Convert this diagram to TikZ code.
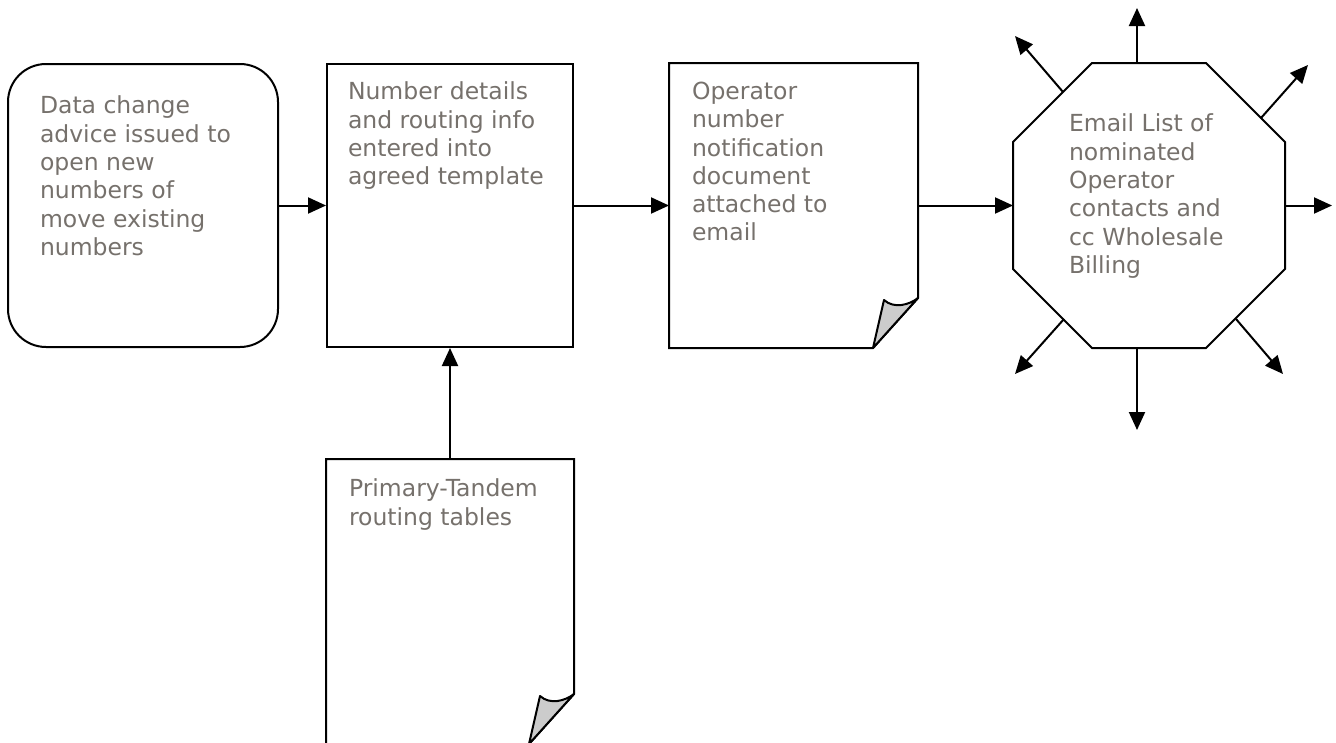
\documentclass[tikz,border=0pt]{standalone}
\usepackage{fontspec}
\setmainfont{DejaVu Sans}
\usetikzlibrary{positioning,calc,arrows.meta}

\definecolor{notegrey}{RGB}{118,113,108}
\definecolor{flapgrey}{RGB}{204,204,204}

\tikzset{
	>={Triangle[length=18pt,width=16pt]},
	stepbox/.style={draw,inner sep=0pt,minimum width=246pt,minimum height=283pt},
	startbox/.style={draw,inner sep=0pt,minimum width=270pt,minimum height=283pt,rounded corners=38pt},
	pagebox/.style={inner sep=0pt,minimum width=247pt,minimum height=283pt},
	note/.style={anchor=north west,inner sep=0pt,align=left,text=notegrey,
		font=\fontsize{23.5}{28.3}\selectfont}
}

% page outline with the bottom right corner curled up
\newcommand{\foldedpage}[1]{%
	\draw[line join=miter] (#1.south west) -- (#1.north west) -- (#1.north east)
		-- ($(#1.south east)+(0,-50)$) -- ($(#1.south east)+(-45,0)$) -- cycle;
	\draw[fill=flapgrey,line join=round] ($(#1.south east)+(-45,0)$) -- ($(#1.south east)+(-34,-48)$)
		.. controls ($(#1.south east)+(-24,-39)$) and ($(#1.south east)+(-9,-43)$) .. ($(#1.south east)+(0,-50)$) -- cycle;
}

\begin{document}
\begin{tikzpicture}[x=1pt,y=-1pt,line width=2pt]
	\useasboundingbox (0,0) rectangle (1336,742);

	% boxes
	\node[startbox]	(advice)	at (143,205.5)	{};
	\node[stepbox]	(template)	at (450,205.5)	{};
	\node[pagebox]	(notice)	at (793.5,205.5)	{};
	\node[pagebox,minimum width=246pt]	(tables)	at (450,601.5)	{};
	\node[inner sep=0pt,minimum width=270pt,minimum height=283pt]	(mail)	at (1149,205.5)	{};
	\foldedpage{notice}
	\foldedpage{tables}
	\draw ($(mail.north west)+(79,0)$) -- ($(mail.north east)+(-79,0)$) -- ($(mail.north east)+(0,79)$)
		-- ($(mail.south east)+(0,-79)$) -- ($(mail.south east)+(-79,0)$) -- ($(mail.south west)+(79,0)$)
		-- ($(mail.south west)+(0,-79)$) -- ($(mail.north west)+(0,79)$) -- cycle;

	% texts
	\node[note,below right=32pt and 32pt of advice.north west]	(advice-t)
		{Data change\\advice issued to\\open new\\numbers of\\move existing\\numbers};
	\node[note,below right=18pt and 21pt of template.north west]	(template-t)
		{Number details\\and routing info\\entered into\\agreed template};
	\node[note,below right=18pt and 22pt of notice.north west]	(notice-t)
		{Operator\\number\\notification\\document\\attached to\\email};
	\node[note,below right=19pt and 22pt of tables.north west]	(tables-t)
		{Primary-Tandem\\routing tables};
	\node[note,below right=50pt and 55pt of mail.north west]	(mail-t)
		{Email List of\\nominated\\Operator\\contacts and\\cc Wholesale\\Billing};

	% flow
	\draw[->]	(advice)	--	(template);
	\draw[->]	(template)	--	(notice);
	\draw[->]	(notice)	--	(mail);
	\draw[->]	(tables)	--	(template);

	% mail going out
	\coordinate (out-n)	at (1137,8);
	\coordinate (out-s)	at (1137,430);
	\coordinate (out-e)	at (1332,205.5);
	\coordinate (out-nw)	at (1015,36);
	\coordinate (out-ne)	at (1308,65);
	\coordinate (out-sw)	at (1015,374);
	\coordinate (out-se)	at (1283,374);
	\draw[->]	(mail.north -| out-n)	--	(out-n);
	\draw[->]	(mail.south -| out-s)	--	(out-s);
	\draw[->]	(mail.east)	--	(out-e);
	\draw[->]	($(mail.north west)+(50,29)$)	--	(out-nw);
	\draw[->]	($(mail.north east)+(-24,55)$)	--	(out-ne);
	\draw[->]	($(mail.south west)+(51,-29)$)	--	(out-sw);
	\draw[->]	($(mail.south east)+(-49,-29)$)	--	(out-se);
\end{tikzpicture}
\end{document}
